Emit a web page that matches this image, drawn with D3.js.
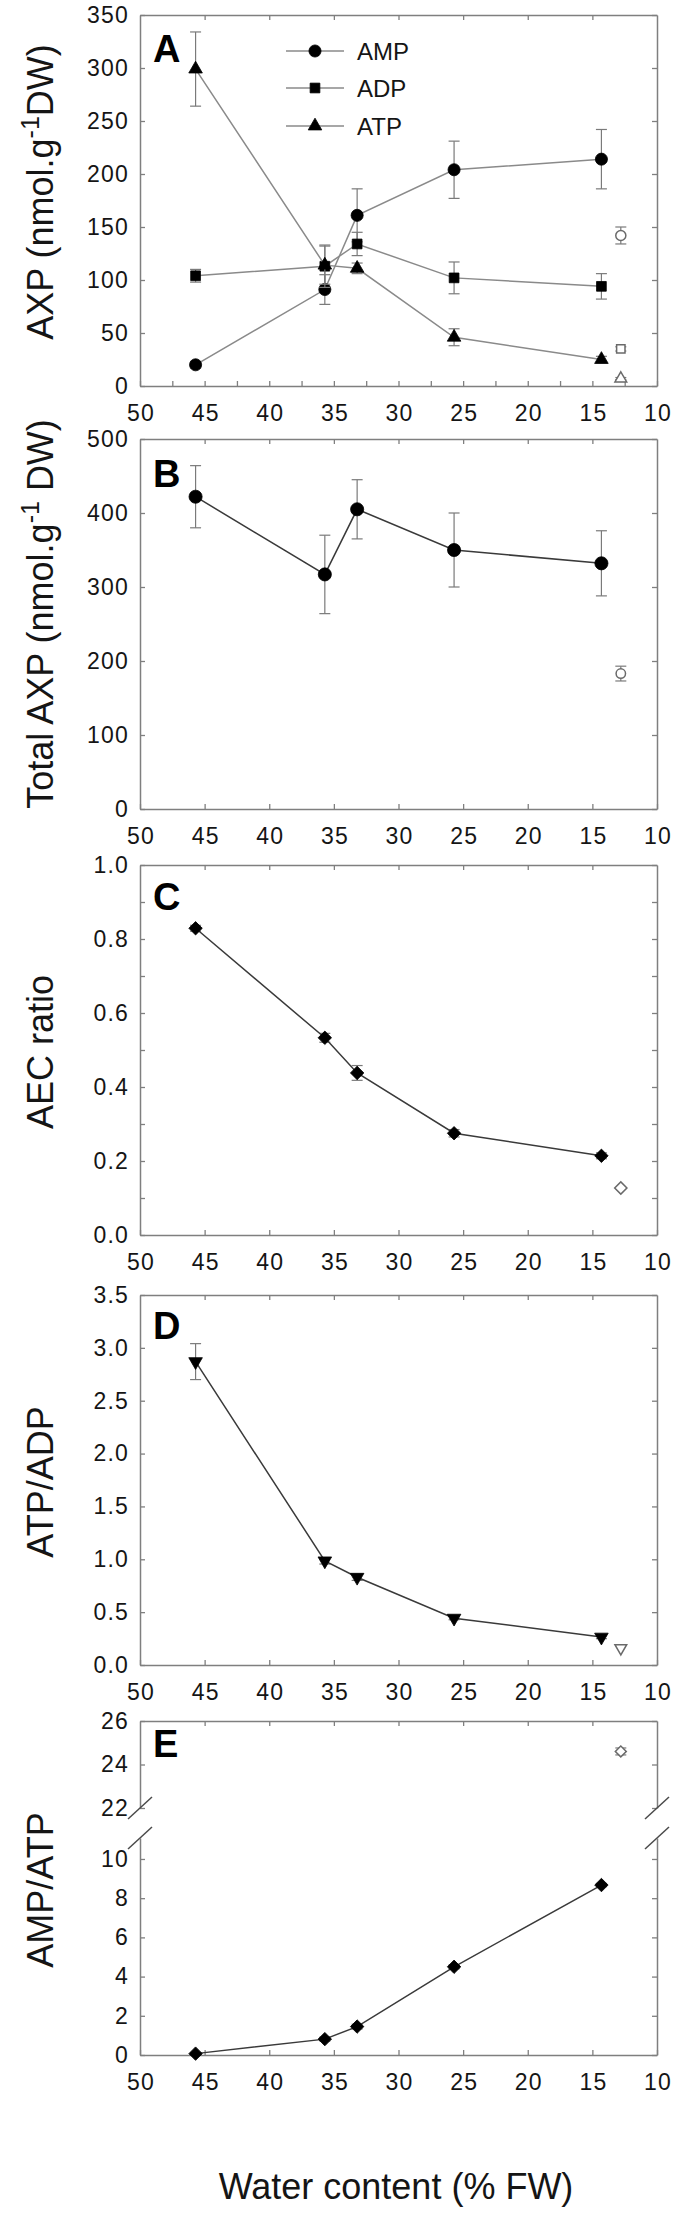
<!DOCTYPE html>
<html><head><meta charset="utf-8">
<script src="https://cdn.jsdelivr.net/npm/d3@7"></script>
<style>
body{margin:0;background:#fff}
svg{display:block}
text{font-family:"Liberation Sans",Arial,Helvetica,sans-serif}
</style>
</head><body>
<svg id="chart" width="675" height="2218"></svg>
<script>
// ---------------- data ----------------
const xTickValues = [50, 45, 40, 35, 30, 25, 20, 15, 10];
const xMinorValues = [47.5, 42.5, 37.5, 32.5, 27.5, 22.5, 17.5, 12.5];
const water = [45.7, 35.7, 33.2, 25.7, 14.3];
const waterCtrl = 12.8;

// Panel A
const ampVal = [20, 91, 161, 204, 214];
const ampErr = [3, 14, 25, 27, 28];
const adpVal = [104, 113, 134, 102, 94];
const adpErr = [6, 20, 11, 15, 12];
const atpVal = [299, 114, 111, 46, 25];
const atpErr = [35, 18, 5, 8, 3];
const ctrlAMP = [142, 8];
const ctrlADP = [35, 2];
const ctrlATP = [7, 1];
const axpTicks = [0, 50, 100, 150, 200, 250, 300, 350];
const legendNames = ["AMP", "ADP", "ATP"];

// Panel B
const totalVal = [422, 317, 405, 350, 332];
const totalErr = [42, 53, 40, 50, 44];
const ctrlTotal = [183, 10];
const totalTicks = [0, 100, 200, 300, 400, 500];

// Panel C
const aecVal = [0.829, 0.533, 0.438, 0.275, 0.214];
const aecErr = [0.008, 0.012, 0.02, 0.01, 0.008];
const ctrlAEC = [0.127, 0];
const aecTicks = [0, 0.2, 0.4, 0.6, 0.8, 1.0];
const aecMinor = [0.1, 0.3, 0.5, 0.7, 0.9];

// Panel D
const ratioTAVal = [2.87, 0.985, 0.83, 0.443, 0.264];
const ratioTAErr = [0.17, 0.03, 0.03, 0.015, 0.015];
const ctrlTA = [0.16, 0];
const taTicks = [0, 0.5, 1.0, 1.5, 2.0, 2.5, 3.0, 3.5];

// Panel E
const ratioMAVal = [0.07, 0.81, 1.45, 4.5, 8.67];
const ratioMAErr = [0.05, 0.1, 0.12, 0.1, 0.08];
const ctrlMA = [24.6, 0.16];
const maTicksLow = [0, 2, 4, 6, 8, 10];
const maTicksUp = [22, 24, 26];

// ---------------- layout ----------------
const svg = d3.select("#chart");
const L = 140, R = 657;
const x = d3.scaleLinear().domain([50, 10]).range([L, R]);
const AX = "#7f7f7f";
const TXT = "#151515";

function styleAxis(g) {
  g.selectAll(".domain").attr("stroke", AX).attr("stroke-width", 1.5);
  g.selectAll(".tick line").attr("stroke", AX).attr("stroke-width", 1.3);
  g.selectAll("text").attr("fill", TXT).style("font-size", "23px")
    .style("letter-spacing", "1.2px")
    .style("font-family", '"Liberation Sans", Arial, sans-serif');
}

function xAxes(top, bottom, minor) {
  const gb = svg.append("g").attr("transform", `translate(0,${bottom})`)
    .call(d3.axisBottom(x).tickValues(xTickValues).tickSize(-5).tickSizeOuter(0).tickPadding(19).tickFormat(d3.format("d")));
  styleAxis(gb);
  gb.selectAll("text").attr("dx", "0.6px");
  if (minor) {
    const gm = svg.append("g").attr("transform", `translate(0,${bottom})`)
      .call(d3.axisBottom(x).tickValues(xMinorValues).tickSize(-5).tickSizeOuter(0).tickFormat(""));
    styleAxis(gm); gm.select(".domain").remove();
  }
  const gt = svg.append("g").attr("transform", `translate(0,${top})`)
    .call(d3.axisTop(x).tickValues(xTickValues.slice(1, -1)).tickSize(-5).tickSizeOuter(0).tickFormat(""));
  styleAxis(gt);
}

function yAxes(y, ticks, fmt, minor) {
  const gl = svg.append("g").attr("transform", `translate(${L},0)`)
    .call(d3.axisLeft(y).tickValues(ticks).tickSize(-5).tickSizeOuter(0).tickPadding(11).tickFormat(fmt));
  styleAxis(gl);
  const gr = svg.append("g").attr("transform", `translate(${R},0)`)
    .call(d3.axisRight(y).tickValues(ticks).tickSize(-5).tickSizeOuter(0).tickFormat(""));
  styleAxis(gr);
  if (minor) {
    [[L, d3.axisLeft], [R, d3.axisRight]].forEach(([px, ax]) => {
      const gm = svg.append("g").attr("transform", `translate(${px},0)`)
        .call(ax(y).tickValues(minor).tickSize(-5).tickSizeOuter(0).tickFormat(""));
      styleAxis(gm); gm.select(".domain").remove();
    });
  }
}

function letter(t, yy) {
  svg.append("text").attr("x", 153).attr("y", yy).text(t)
    .attr("fill", "#000").style("font-size", "38px").style("font-weight", "bold");
}

function yTitle(cy, parts) {
  const t = svg.append("text").attr("transform", `translate(53,${cy}) rotate(-90)`)
    .attr("text-anchor", "middle").attr("fill", TXT).style("font-size", "36px");
  parts.forEach(p => {
    const s = t.append("tspan").text(p.t);
    if (p.sup) s.attr("baseline-shift", "super").style("font-size", "25px");
  });
}

const sym = {
  circle: d3.symbol().type(d3.symbolCircle),
  square: d3.symbol().type(d3.symbolSquare),
  tri: d3.symbol().type(d3.symbolTriangle),
};
function marker(g, type, cx, cy, filled, size) {
  let p;
  if (type === "circle") p = g.append("path").attr("d", sym.circle.size(size || 120)());
  else if (type === "square") p = g.append("path").attr("d", sym.square.size(size || 100)());
  else if (type === "tri") p = g.append("path").attr("d", sym.tri.size(size || 80)());
  else if (type === "down") p = g.append("path").attr("d", sym.tri.size(size || 80)()).attr("data-r", 180);
  else if (type === "diamond") p = g.append("path").attr("d", sym.square.size(size || 90)()).attr("data-r", 45);
  const r = p.attr("data-r") || 0;
  p.attr("transform", `translate(${cx},${cy}) rotate(${r})`);
  if (filled) p.attr("fill", "#000").attr("stroke", "#000").attr("stroke-width", 0.8);
  else p.attr("fill", "#fff").attr("stroke", "#6a6a6a").attr("stroke-width", 1.5);
  return p;
}

function errBar(g, cx, yScale, v, e) {
  if (!e) return;
  const y1 = yScale(v - e), y2 = yScale(v + e);
  g.append("line").attr("x1", cx).attr("x2", cx).attr("y1", y1).attr("y2", y2)
    .attr("stroke", "#7a7a7a").attr("stroke-width", 1.2);
  [y1, y2].forEach(yy => g.append("line").attr("x1", cx - 5.5).attr("x2", cx + 5.5)
    .attr("y1", yy).attr("y2", yy).attr("stroke", "#7a7a7a").attr("stroke-width", 1.2));
}

function series(y, vals, errs, type, lineColor, size) {
  const g = svg.append("g");
  const line = d3.line().x((d, i) => x(water[i])).y(d => y(d));
  vals.forEach((v, i) => errBar(g, x(water[i]), y, v, errs[i]));
  g.append("path").datum(vals).attr("d", line).attr("fill", "none")
    .attr("stroke", lineColor).attr("stroke-width", 1.5);
  vals.forEach((v, i) => marker(g, type, x(water[i]), y(v), true, size));
}

function ctrl(y, c, type, size) {
  const g = svg.append("g");
  errBar(g, x(waterCtrl), y, c[0], c[1]);
  marker(g, type, x(waterCtrl), y(c[0]), false, size);
}

// ---------------- Panel A ----------------
{
  const top = 15, bottom = 386;
  const y = d3.scaleLinear().domain([0, 350]).range([bottom, top]);
  xAxes(top, bottom, true);
  yAxes(y, axpTicks, d3.format("d"));
  const lc = "#8a8a8a";
  series(y, ampVal, ampErr, "circle", lc, 115);
  series(y, adpVal, adpErr, "square", lc, 95);
  series(y, atpVal, atpErr, "tri", lc, 80);
  ctrl(y, ctrlAMP, "circle", 80);
  ctrl(y, ctrlADP, "square", 70);
  ctrl(y, ctrlATP, "tri", 60);
  letter("A", 62);
  yTitle(192, [{t: "AXP (nmol.g"}, {t: "-1", sup: true}, {t: "DW)"}]);
  // legend
  const types = ["circle", "square", "tri"];
  const ly = [51, 88, 126];
  legendNames.forEach((n, i) => {
    svg.append("line").attr("x1", 286).attr("x2", 344).attr("y1", ly[i]).attr("y2", ly[i])
      .attr("stroke", lc).attr("stroke-width", 1.5);
    marker(svg, types[i], 315, ly[i], true, [115, 95, 80][i]);
    svg.append("text").attr("x", 357).attr("y", ly[i]).attr("dy", "0.36em").text(n)
      .attr("fill", TXT).style("font-size", "24px");
  });
}

// ---------------- Panel B ----------------
{
  const top = 439, bottom = 809;
  const y = d3.scaleLinear().domain([0, 500]).range([bottom, top]);
  xAxes(top, bottom, false);
  yAxes(y, totalTicks, d3.format("d"));
  series(y, totalVal, totalErr, "circle", "#3a3a3a", 135);
  ctrl(y, ctrlTotal, "circle", 70);
  letter("B", 487);
  yTitle(614, [{t: "Total AXP (nmol.g"}, {t: "-1", sup: true}, {t: " DW)"}]);
}

// ---------------- Panel C ----------------
{
  const top = 865, bottom = 1235;
  const y = d3.scaleLinear().domain([0, 1]).range([bottom, top]);
  xAxes(top, bottom, false);
  yAxes(y, aecTicks, d3.format(".1f"), aecMinor);
  series(y, aecVal, aecErr, "diamond", "#3a3a3a", 90);
  ctrl(y, ctrlAEC, "diamond", 75);
  letter("C", 910);
  yTitle(1052, [{t: "AEC ratio"}]);
}

// ---------------- Panel D ----------------
{
  const top = 1295, bottom = 1665;
  const y = d3.scaleLinear().domain([0, 3.5]).range([bottom, top]);
  xAxes(top, bottom, false);
  yAxes(y, taTicks, d3.format(".1f"));
  series(y, ratioTAVal, ratioTAErr, "down", "#3a3a3a", 80);
  ctrl(y, ctrlTA, "down", 60);
  letter("D", 1339);
  yTitle(1482, [{t: "ATP/ADP"}]);
}

// ---------------- Panel E (broken axis) ----------------
{
  const top = 1721, bottom = 2055, brkUp = 1808, brkLow = 1838;
  const yUp = d3.scaleLinear().domain([22, 26]).range([brkUp, top]);
  const yLow = d3.scaleLinear().domain([0, 11.07]).range([bottom, brkLow]);
  xAxes(top, bottom, false);
  yAxes(yUp, maTicksUp, d3.format("d"));
  yAxes(yLow, maTicksLow, d3.format("d"));
  // break marks
  [L, R].forEach(px => [brkUp, brkLow].forEach(py => {
    svg.append("line").attr("x1", px - 12).attr("y1", py + 11).attr("x2", px + 12).attr("y2", py - 11)
      .attr("stroke", "#4a4a4a").attr("stroke-width", 1.5);
  }));
  series(yLow, ratioMAVal, ratioMAErr, "diamond", "#3a3a3a", 90);
  ctrl(yUp, ctrlMA, "diamond", 60);
  letter("E", 1757);
  yTitle(1890, [{t: "AMP/ATP"}]);
}

// x title
svg.append("text").attr("x", 396).attr("y", 2199).attr("text-anchor", "middle")
  .attr("fill", TXT).style("font-size", "36px").text("Water content (% FW)");
</script>
</body></html>
